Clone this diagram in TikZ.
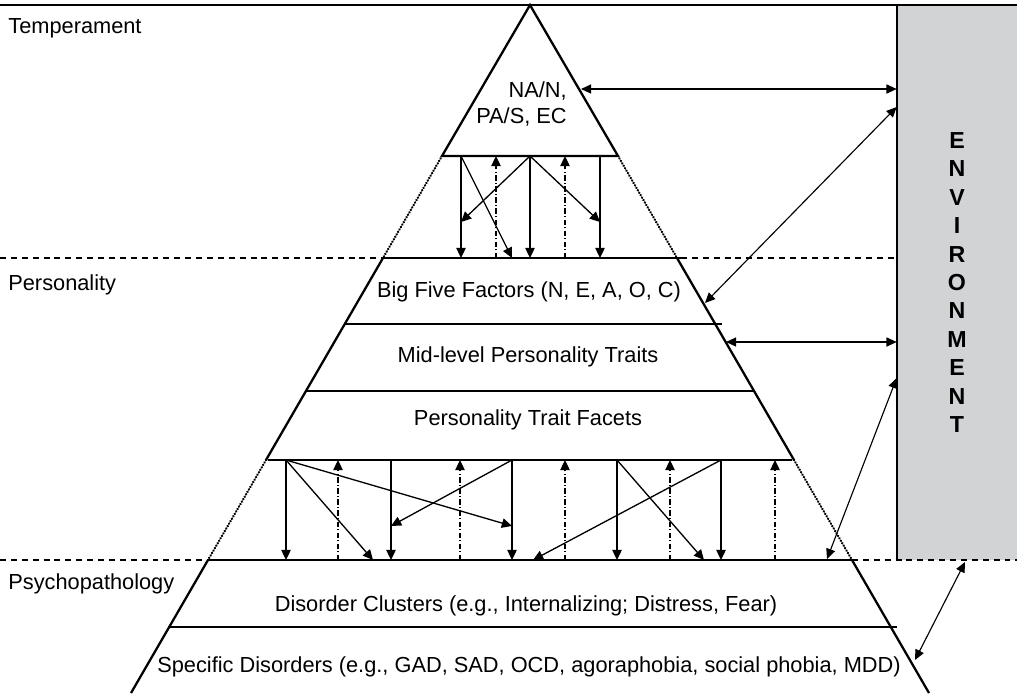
\documentclass[tikz,border=0pt]{standalone}
\usepackage{fontspec}
\setmainfont{Liberation Sans}
\usetikzlibrary{arrows.meta}
\definecolor{envgray}{RGB}{209,211,212}
\begin{document}
\begin{tikzpicture}[x=0.02cm, y=-0.02cm,
    outline/.style={line width=1.3pt},
    dotline/.style={line width=1.5pt, line cap=round, dash pattern=on 0.01pt off 1.6pt},
    sepline/.style={line width=1.1pt, dash pattern=on 3.4pt off 2.8pt},
    down/.style={line width=0.75pt, -{Triangle[length=5.8pt,width=5.4pt]}},
    up/.style={down, dash pattern=on 3pt off 1.4pt on 0.5pt off 1.4pt},
    both/.style={line width=0.65pt, {Triangle[length=5.8pt,width=5.2pt]}-{Triangle[length=5.8pt,width=5.2pt]}},
    lbl/.style={font=\fontsize{12.4}{14.6}\selectfont, inner sep=0pt},
    envbox/.style={fill=envgray, minimum width=2.4cm, minimum height=11.1cm, inner sep=0pt,
      align=center, font=\bfseries\fontsize{13.2}{16.2}\selectfont}
  ]
  \useasboundingbox (0,0) rectangle (1017,693);
  % Environment column
  \node[envbox] (env) at (957,282.5) {E\\N\\V\\I\\R\\O\\N\\M\\E\\N\\T};
  \draw[outline] (env.north west) -- (env.south west);
  \draw[outline] (0,5) -- (1017,5);
  % level separators
  \draw[sepline] (0,258) -- (385,258) (681,258) -- (897,258);
  \draw[sepline] (0,560) -- (208,560) (852,560) -- (1017,560);
  \node[lbl, anchor=base west] (temp) at (8,33) {Temperament};
  \node[lbl, anchor=base west] (pers) at (8,290) {Personality};
  \node[lbl, anchor=base west] (psych) at (8,589) {Psychopathology};
  % pyramid
  \draw[outline] (442,156) -- (530,5) -- (618,156) -- cycle;
  \draw[dotline] (442,156) -- (383,258) (618,156) -- (677,258);
  \draw[outline] (385,258) -- (681,258);
  \draw[outline] (383,258) -- (266,460) (677,258) -- (794,460);
  \foreach \y/\l/\r in {324/345/722, 391/306/755, 460/268/792}
    \draw[outline] (\l,\y) -- (\r,\y);
  \draw[dotline] (266,460) -- (208,560) (794,460) -- (852,560);
  \draw[outline] (207,560) -- (853,560) (168,627) -- (897,627);
  \draw[outline] (208,560) -- (131,693) (852,560) -- (929,693);
  % layer labels
  \node[lbl, anchor=east, align=right] (na) at (567,104) {NA/N,\\PA/S, EC};
  \node[lbl, anchor=base] (big) at (529,297) {Big Five Factors (N, E, A, O, C)};
  \node[lbl, anchor=base] (mid) at (528,362) {Mid-level Personality Traits};
  \node[lbl, anchor=base] (fac) at (528,425) {Personality Trait Facets};
  \node[lbl, anchor=base] (clu) at (526,611) {Disorder Clusters (e.g., Internalizing; Distress, Fear)};
  \node[lbl, anchor=base] (spec) at (529,672) {Specific Disorders (e.g., GAD, SAD, OCD, agoraphobia, social phobia, MDD)};
  % temperament -> big five
  \foreach \x in {461,530,600}
    \draw[down] (\x,156) -- (\x,258);
  \foreach \x in {496,565}
    \draw[up] (\x,258) -- (\x,156);
  \draw[down] (461,156) -- (512,258);
  \draw[down] (530,156) -- (461,222);
  \draw[down] (530,156) -- (600,222);
  % facets -> psychopathology
  \foreach \x in {286,391,512,617,721}
    \draw[down] (\x,460) -- (\x,560);
  \foreach \x in {338,460,565,670,775}
    \draw[up] (\x,560) -- (\x,460);
  \draw[down] (286,460) -- (373,560);
  \draw[down] (286,460) -- (512,526);
  \draw[down] (512,460) -- (391,526);
  \draw[down] (617,460) -- (704,560);
  \draw[down] (721,460) -- (533,560);
  % links with the environment
  \coordinate (tside) at (581,89);
  \coordinate (bside) at (705,303);
  \coordinate (mside) at (726,342);
  \coordinate (ptop) at (827,559);
  \coordinate (sside) at (915,660);
  \draw[both] (tside) -- (env.west |- tside);
  \draw[both] (bside) -- (env.west |- 0,107);
  \draw[both] (mside) -- (env.west |- mside);
  \draw[both] (ptop) -- (env.west |- 0,378);
  \draw[both] (sside) -- (965,562);
\end{tikzpicture}
\end{document}
